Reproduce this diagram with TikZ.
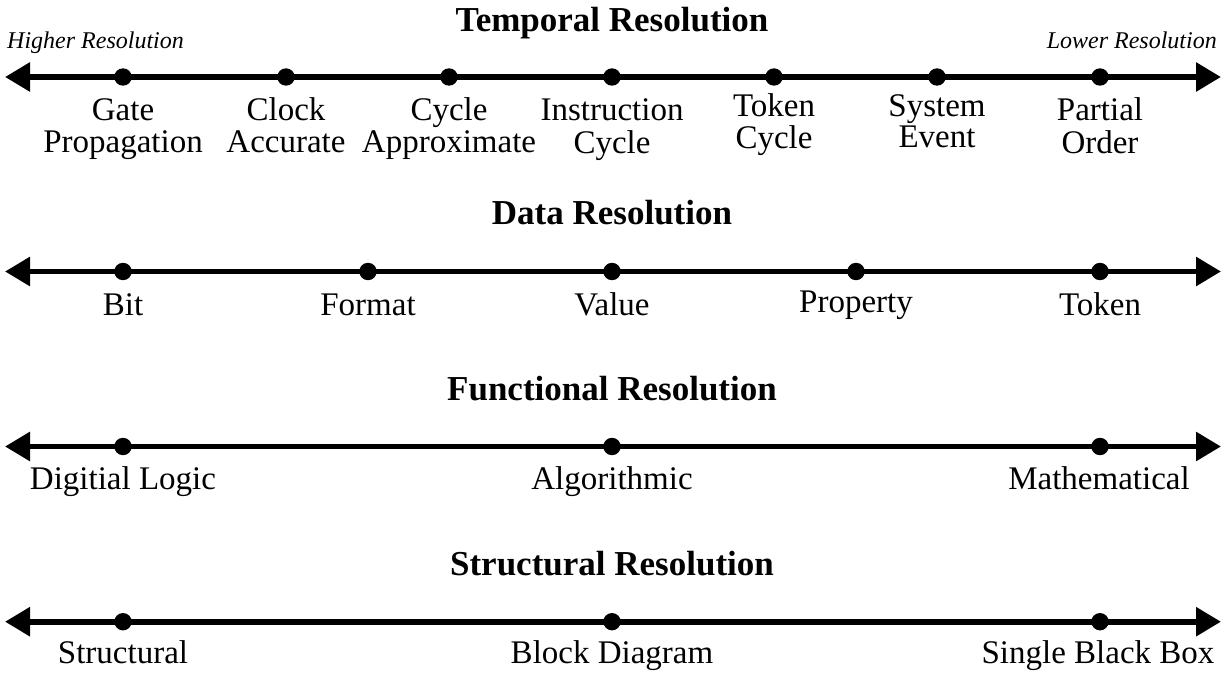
\documentclass[tikz,border=0pt]{standalone}
\usepackage{fontspec}
\setmainfont{Liberation Serif}
\usetikzlibrary{arrows.meta}

\tikzset{
  axisline/.style={line width=5.8bp,
    {Triangle[length=25bp,width=28bp]}-{Triangle[length=25bp,width=28bp]}},
  dotmark/.style={circle, fill=black, inner sep=0pt, minimum size=17.4bp},
  lbl/.style={anchor=base, inner sep=0pt, font=\fontsize{33bp}{31bp}\selectfont},
  ttl/.style={anchor=base, inner sep=0pt, font=\bfseries\fontsize{35bp}{40bp}\selectfont},
  endnote/.style={inner sep=0pt, font=\itshape\fontsize{24bp}{28bp}\selectfont},
}
\newcommand{\twoline}[2]{\begin{tabular}[t]{@{}c@{}}#1\\#2\end{tabular}}

\begin{document}
\begin{tikzpicture}[x=1bp, y=-1bp]
  \useasboundingbox (0,0) rectangle (1226,673);

  % ---------------- Temporal resolution ----------------
  \node[ttl] (ttitle) at (612,31.7) {Temporal Resolution};
  \node[endnote, anchor=base west] (thi) at (7,49) {Higher Resolution};
  \node[endnote, anchor=base east] (tlo) at (1217,49) {Lower Resolution};
  \coordinate (tL) at (5,77);
  \coordinate (tR) at (1221,77);
  \draw[axisline] (tL) -- (tR);
  \foreach \x/\n in {123/1, 286/2, 449/3, 612/4, 774/5, 937/6, 1100/7}
    \node[dotmark] (t\n) at (\x,77) {};
  \node[lbl] (tl1) at (123,121) {\twoline{Gate}{Propagation}};
  \node[lbl] (tl2) at (286,121) {\twoline{Clock}{Accurate}};
  \node[lbl] (tl3) at (449,121) {\twoline{Cycle}{Approximate}};
  \node[lbl] (tl4) at (612,121) {\twoline{Instruction}{Cycle}};
  \node[lbl] (tl5) at (774,116.7) {\twoline{Token}{Cycle}};
  \node[lbl] (tl6) at (937,116.7) {\twoline{System}{Event}};
  \node[lbl] (tl7) at (1100,121) {\twoline{Partial}{Order}};

  % ---------------- Data resolution ----------------
  \node[ttl] (dtitle) at (612,225) {Data Resolution};
  \coordinate (dL) at (5,271.5);
  \coordinate (dR) at (1221,271.5);
  \draw[axisline] (dL) -- (dR);
  \foreach \x/\n in {123/1, 368/2, 612/3, 856/4, 1100/5}
    \node[dotmark] (d\n) at (\x,271.5) {};
  \node[lbl] (dl1) at (123,315.7) {Bit};
  \node[lbl] (dl2) at (368,315.7) {Format};
  \node[lbl] (dl3) at (612,315.7) {Value};
  \node[lbl] (dl4) at (856,312.3) {Property};
  \node[lbl] (dl5) at (1100,315.7) {Token};

  % ---------------- Functional resolution ----------------
  \node[ttl] (ftitle) at (612,400) {Functional Resolution};
  \coordinate (fL) at (5,446.5);
  \coordinate (fR) at (1221,446.5);
  \draw[axisline] (fL) -- (fR);
  \foreach \x/\n in {123/1, 612/2, 1100/3}
    \node[dotmark] (f\n) at (\x,446.5) {};
  \node[lbl] (fl1) at (123,489) {Digitial Logic};
  \node[lbl] (fl2) at (612,489) {Algorithmic};
  \node[lbl] (fl3) at (1099,489) {Mathematical};

  % ---------------- Structural resolution ----------------
  \node[ttl] (stitle) at (612,575) {Structural Resolution};
  \coordinate (sL) at (5,621.7);
  \coordinate (sR) at (1221,621.7);
  \draw[axisline] (sL) -- (sR);
  \foreach \x/\n in {123/1, 612/2, 1100/3}
    \node[dotmark] (s\n) at (\x,621.7) {};
  \node[lbl] (sl1) at (123,663.3) {Structural};
  \node[lbl] (sl2) at (612,663.3) {Block Diagram};
  \node[lbl] (sl3) at (1098,663.3) {Single Black Box};
\end{tikzpicture}
\end{document}
